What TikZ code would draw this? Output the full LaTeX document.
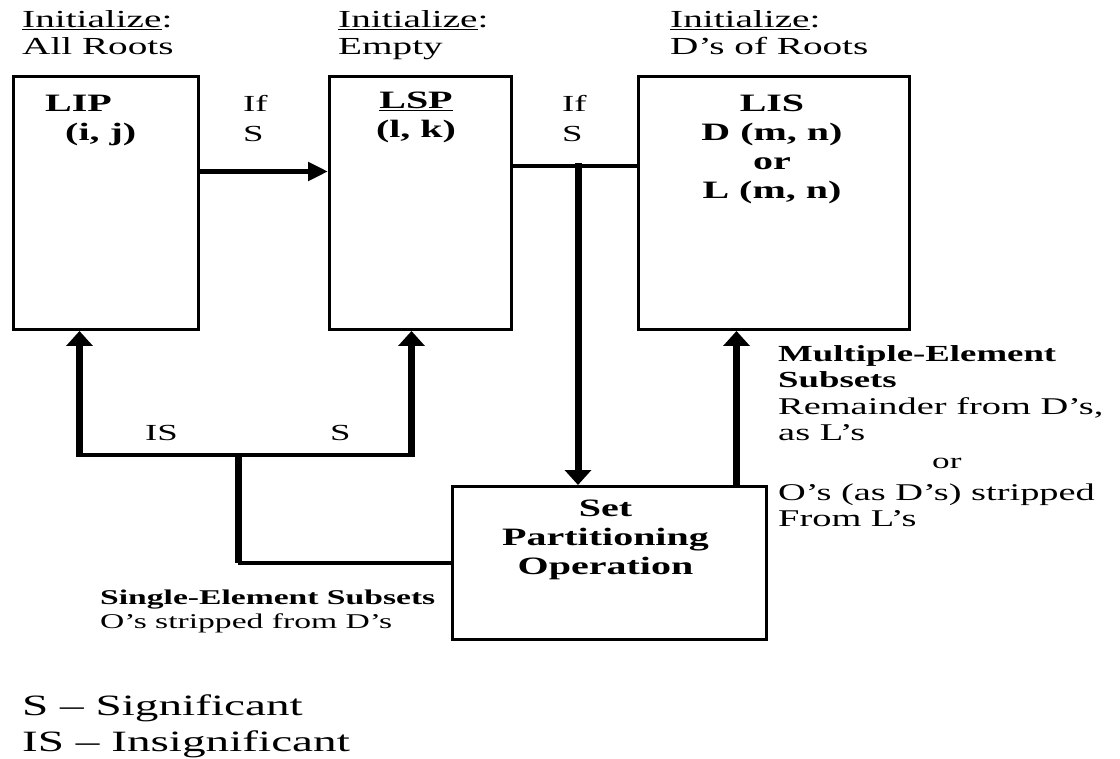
\documentclass[tikz,border=0pt]{standalone}
\usepackage{fontspec}
\setmainfont[FakeStretch=1.6]{Liberation Serif}
\usetikzlibrary{positioning,arrows.meta,calc}
\newcommand{\fs}[2]{\fontsize{#1}{#2}\selectfont}
\tikzset{
  box/.style={draw, line width=3pt, inner sep=0pt, anchor=north west},
  txt/.style={inner sep=0pt, align=left, anchor=north west, font=\fs{23}{30}},
  hdr/.style={txt, font=\fs{24.5}{27}},
  ttl/.style={inner sep=0pt, align=center, anchor=north, font=\fs{25}{29}\bfseries},
  note/.style={txt, font=\fs{24}{26.5}},
  key/.style={txt, font=\fs{29.5}{36}},
  % thick feeds between the lists and the partitioning box
  flow/.style={-{Triangle[length=15pt, width=26pt]}, line width=7pt, shorten <=-2pt},
  feed/.style={-{Triangle[length=20pt, width=18pt]}, line width=5pt},
  bus/.style={line width=4pt},
  riser/.style={line width=7pt},
}

\begin{document}
\begin{tikzpicture}[x=1pt, y=-1pt]
\useasboundingbox (0,0) rectangle (1120,759);

%% ── the three lists ─────────────────────────────────────────────────────
\node[box, minimum width=185pt, minimum height=253pt] (lip) at (12,75) {};
\node[box, minimum width=182pt, minimum height=253pt] (lsp) at (328,75) {};
\node[box, minimum width=271pt, minimum height=253pt] (lis) at (637,75) {};

\node[hdr] (hlip) at (22,10) {\underline{Initialize}:\\All Roots};
\node[hdr] (hlsp) at (338,10) {\underline{Initialize}:\\Empty};
\node[hdr] (hlis) at (670,10) {\underline{Initialize}:\\D’s of Roots};

\node[ttl, anchor=north west, align=left] (tlip) at (45,95)
  {LIP\\\hspace*{20pt}(i, j)};
\node[ttl] (tlsp) at (416,92) {\underline{LSP}\\(l, k)};
\node[ttl] (tlis) at (772,95) {LIS\\D (m, n)\\or\\L (m, n)};

%% ── the partitioning step ───────────────────────────────────────────────
\node[box, minimum width=314pt, minimum height=153pt] (spo) at (451,485) {};
\node[ttl] (tspo) at ([xshift=-4pt, yshift=-15pt]spo.north)
  {Set\\Partitioning\\Operation};

\coordinate (tap) at (578,165);
\coordinate (fork) at (238,455);

\draw[feed] ([yshift=31.5pt]lip.east) -- ([yshift=31.5pt]lsp.west);
\draw[bus] ([yshift=36.5pt]lsp.east) -- ([yshift=36.5pt]lis.west);
\draw[flow] (tap) -- (tap |- spo.north);
\draw[flow] ([xshift=127pt]spo.north) -- ([xshift=127pt]spo.north |- lis.south);

%% single elements go back to LIP / LSP
\draw[bus] ([xshift=-26.5pt]lip.south |- fork) -- ([xshift=-9pt]lsp.south |- fork);
\draw[flow] ([xshift=-26.5pt]lip.south |- fork) -- ([xshift=-26.5pt]lip.south);
\draw[flow] ([xshift=-9pt]lsp.south |- fork) -- ([xshift=-9pt]lsp.south);
\draw[riser] (fork) -- (fork |- spo.west);
\draw[bus] (fork |- spo.west) -- (spo.west);

\node[txt] (if1) at (243,95) {If\\S};
\node[txt] (if2) at (562,95) {If\\S};
\node[txt] (lis1) at (145,425) {IS};
\node[txt] (lsg1) at (330,425) {S};

%% ── notes ───────────────────────────────────────────────────────────────
\node[note] (mult) at (778,345)
  {{\fs{23}{26.5}\bfseries Multiple-Element}\\{\fs{23}{26.5}\bfseries Subsets}\\
   Remainder from D’s,\\as L’s\\[33pt]
   O’s (as D’s) stripped\\From L’s};
\node[note, font=\fs{22}{26}] (or2) at (932,458) {or};
\node[txt, font=\fs{21}{24}] (single) at (100,590)
  {{\fs{21}{24}\bfseries Single-Element Subsets}\\O’s stripped from D’s};

\node[key] (legend) at (22,695) {S -- Significant\\IS -- Insignificant};

\end{tikzpicture}
\end{document}
